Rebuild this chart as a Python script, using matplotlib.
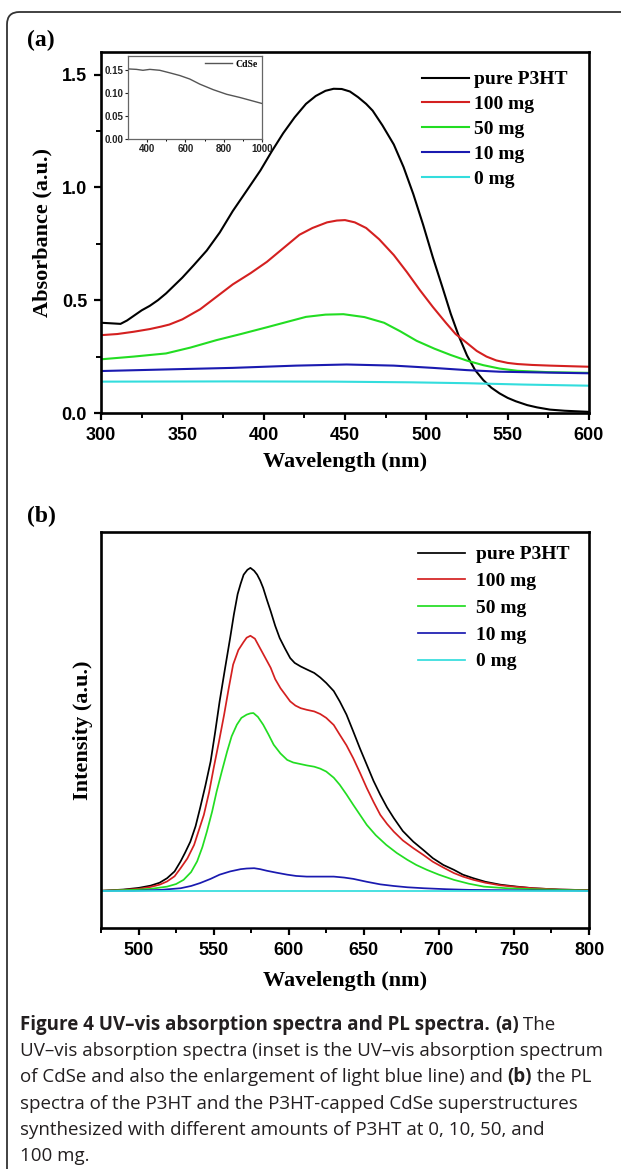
import numpy as np
import matplotlib
matplotlib.use('Agg')
import matplotlib.pyplot as plt
from matplotlib.patches import FancyBboxPatch

# ---- (a) UV-vis absorption ----
labels = ['pure P3HT', '100 mg', '50 mg', '10 mg', '0 mg']
colors = ['#000000', '#d42020', '#22dd22', '#1a1ab0', '#33dddd']

a_black_x = [300, 305, 312, 316, 320, 325, 330, 335, 340, 345, 350, 357, 365, 373, 381, 390, 398, 405, 412, 419, 426, 432, 438, 443, 448, 453, 458, 463, 467, 473, 480, 486, 492, 498, 504, 510, 515, 520, 525, 530, 535, 540, 545, 550, 555, 562, 568, 576, 585, 600]
a_black_y = [0.40, 0.398, 0.395, 0.41, 0.43, 0.455, 0.475, 0.50, 0.53, 0.565, 0.60, 0.655, 0.72, 0.80, 0.895, 0.99, 1.075, 1.16, 1.24, 1.31, 1.37, 1.405, 1.428, 1.437, 1.436, 1.425, 1.40, 1.37, 1.34, 1.275, 1.19, 1.09, 0.97, 0.835, 0.69, 0.555, 0.44, 0.34, 0.255, 0.19, 0.146, 0.112, 0.087, 0.067, 0.052, 0.035, 0.025, 0.015, 0.01, 0.005]
a_red_x = [300, 310, 320, 330, 337, 342, 350, 361, 371, 381, 392, 402, 412, 422, 430, 439, 445, 450, 456, 463, 471, 480, 488, 496, 504, 512, 518, 525, 531, 537, 543, 550, 556, 565, 576, 590, 600]
a_red_y = [0.345, 0.35, 0.36, 0.372, 0.383, 0.392, 0.415, 0.46, 0.515, 0.57, 0.62, 0.67, 0.73, 0.79, 0.82, 0.845, 0.853, 0.855, 0.845, 0.82, 0.77, 0.70, 0.625, 0.545, 0.47, 0.40, 0.35, 0.31, 0.275, 0.25, 0.233, 0.222, 0.217, 0.213, 0.21, 0.207, 0.205]
a_green_x = [300, 320, 340, 355, 371, 386, 402, 415, 426, 438, 449, 462, 474, 484, 494, 505, 515, 525, 535, 545, 556, 575, 600]
a_green_y = [0.238, 0.25, 0.264, 0.29, 0.323, 0.35, 0.38, 0.405, 0.426, 0.436, 0.438, 0.425, 0.40, 0.362, 0.32, 0.285, 0.257, 0.232, 0.212, 0.197, 0.187, 0.181, 0.178]
a_blue_x = [300, 340, 381, 420, 451, 480, 504, 525, 545, 575, 600]
a_blue_y = [0.186, 0.193, 0.20, 0.21, 0.215, 0.21, 0.20, 0.19, 0.183, 0.179, 0.176]
a_cyan_x = [300, 380, 443, 490, 525, 560, 600]
a_cyan_y = [0.139, 0.14, 0.139, 0.136, 0.132, 0.126, 0.121]

# inset: CdSe
cdse_x = [300, 344, 378, 414, 466, 518, 571, 623, 675, 745, 815, 885, 1000]
cdse_y = [0.152, 0.151, 0.149, 0.151, 0.149, 0.1435, 0.1376, 0.130, 0.119, 0.107, 0.097, 0.090, 0.077]

# ---- (b) PL spectra ----
b_black_x = [475, 490, 500, 508, 514, 519, 524, 528, 531, 534.5, 538, 541, 544.5, 548, 551, 554, 557.5, 561, 563.5, 566, 568, 570, 572.5, 574.5, 577, 579, 581, 583, 585.5, 588, 591, 594, 597.5, 601, 604, 608, 612, 617, 621, 625, 630, 634, 638.5, 643, 647.5, 652, 656.5, 661, 665.5, 670, 676, 683, 690, 696, 703, 710, 716, 723, 731, 741, 752, 763, 780, 800]
b_black_y = [0.0, 0.004, 0.009, 0.016, 0.025, 0.039, 0.06, 0.091, 0.118, 0.152, 0.2, 0.256, 0.325, 0.40, 0.49, 0.586, 0.685, 0.782, 0.855, 0.918, 0.95, 0.978, 0.993, 0.999, 0.99, 0.978, 0.96, 0.937, 0.90, 0.865, 0.82, 0.782, 0.75, 0.72, 0.705, 0.694, 0.685, 0.674, 0.66, 0.643, 0.618, 0.586, 0.545, 0.493, 0.44, 0.39, 0.34, 0.297, 0.258, 0.225, 0.185, 0.152, 0.125, 0.101, 0.08, 0.065, 0.05, 0.039, 0.028, 0.019, 0.013, 0.008, 0.004, 0.002]
b_red_x = [475, 490, 500, 508, 514, 519, 524, 528, 532.5, 537, 540, 543.5, 547, 550, 553.5, 557, 560, 563, 566.5, 570, 572, 574.5, 577.5, 581, 584.5, 588, 591, 594.5, 598, 601, 604.5, 608, 612, 617, 621, 625, 630, 634, 638.5, 643, 647.5, 652, 656.5, 661, 665.5, 670, 676, 683, 690, 696, 703, 710, 716, 723, 731, 741, 752, 763, 780, 800]
b_red_y = [0.0, 0.003, 0.006, 0.012, 0.019, 0.029, 0.045, 0.07, 0.1, 0.142, 0.185, 0.235, 0.305, 0.379, 0.46, 0.545, 0.625, 0.70, 0.745, 0.77, 0.783, 0.789, 0.78, 0.75, 0.72, 0.69, 0.655, 0.627, 0.605, 0.586, 0.573, 0.565, 0.56, 0.555, 0.547, 0.535, 0.513, 0.483, 0.45, 0.41, 0.365, 0.318, 0.275, 0.235, 0.207, 0.183, 0.156, 0.132, 0.11, 0.09, 0.072, 0.055, 0.044, 0.034, 0.025, 0.017, 0.012, 0.008, 0.004, 0.002]
b_green_x = [475, 497, 508, 519, 525, 530, 535, 539, 542.5, 545.5, 549, 552, 555.5, 559, 562, 565.5, 568.5, 572, 574.5, 576.5, 579.5, 583, 586.5, 590, 594.5, 599, 603, 608, 612, 617, 621, 625, 630, 634, 638.5, 643, 647.5, 652, 658, 665, 672, 679, 685, 692, 700, 710, 720, 730, 745, 763, 800]
b_green_y = [0.0, 0.003, 0.006, 0.013, 0.021, 0.034, 0.058, 0.091, 0.135, 0.183, 0.245, 0.307, 0.37, 0.431, 0.478, 0.514, 0.535, 0.545, 0.549, 0.55, 0.538, 0.514, 0.484, 0.452, 0.425, 0.405, 0.397, 0.392, 0.388, 0.384, 0.378, 0.369, 0.35, 0.328, 0.298, 0.266, 0.235, 0.204, 0.172, 0.142, 0.117, 0.096, 0.08, 0.065, 0.05, 0.034, 0.022, 0.013, 0.008, 0.005, 0.001]
b_blue_x = [475, 497, 515, 528, 535, 541, 548, 554, 561, 568, 572, 577, 581, 585.5, 592, 599, 605, 612, 620, 630, 637, 643, 652, 661, 670, 679, 690, 705, 720, 741, 800]
b_blue_y = [0.0, 0.0, 0.003, 0.008, 0.015, 0.024, 0.037, 0.05, 0.06, 0.067, 0.069, 0.07, 0.067, 0.062, 0.056, 0.05, 0.046, 0.044, 0.044, 0.044, 0.041, 0.037, 0.028, 0.02, 0.015, 0.011, 0.008, 0.005, 0.003, 0.002, 0.0]
b_cyan_x = [475, 600, 800]
b_cyan_y = [0.0, 0.0, 0.0]

W, H = 621, 1169
fig = plt.figure(figsize=(W / 100, H / 100), dpi=100)

serif = 'Liberation Serif'
sans = 'Liberation Sans'


def px_axes(left, top, right, bottom):
    return fig.add_axes([left / W, 1 - bottom / H, (right - left) / W, (bottom - top) / H])


def style_axes(ax):
    for sp in ax.spines.values():
        sp.set_linewidth(1.9)
    ax.tick_params(which='major', direction='out', length=5, width=1.6, pad=5,
                   labelsize=13, top=False, right=False)
    ax.tick_params(which='minor', direction='out', length=3.5, width=1.4,
                   top=False, right=False)
    for lab in ax.get_xticklabels() + ax.get_yticklabels():
        lab.set_fontfamily(sans)
        lab.set_fontweight('bold')


legend_font = {'family': serif, 'weight': 'bold', 'size': 14}

# panel (a)
ax1 = px_axes(101, 52, 589, 413)
series_a = [(a_black_x, a_black_y), (a_red_x, a_red_y), (a_green_x, a_green_y),
            (a_blue_x, a_blue_y), (a_cyan_x, a_cyan_y)]
for (x, y), c, lab in zip(series_a, colors, labels):
    ax1.plot(x, y, color=c, lw=1.5, label=lab)
ax1.set_xlim(300, 600)
ax1.set_ylim(0, 1.6)
ax1.set_xticks(np.arange(300, 601, 50))
ax1.set_xticks(np.arange(325, 600, 50), minor=True)
ax1.set_yticks([0.0, 0.5, 1.0, 1.5])
ax1.set_yticks([0.25, 0.75, 1.25], minor=True)
ax1.set_yticklabels(['0.0', '0.5', '1.0', '1.5'])
style_axes(ax1)
ax1.set_xlabel('Wavelength (nm)', fontfamily=serif, fontweight='bold', fontsize=16, labelpad=6)
ax1.set_ylabel('Absorbance (a.u.)', fontfamily=serif, fontweight='bold', fontsize=16, labelpad=7)
ax1.legend(loc='upper left', bbox_to_anchor=(0.658, 0.948), frameon=False, prop=legend_font,
           handlelength=2.4, handletextpad=0.28, labelspacing=0.37,
           borderpad=0, borderaxespad=0)

# inset
axi = px_axes(128, 56, 262, 139)
axi.plot(cdse_x, cdse_y, color='#555555', lw=1.0, label='CdSe')
axi.set_xlim(300, 1000)
axi.set_ylim(0, 0.18)
axi.set_xticks([400, 600, 800, 1000])
axi.set_xticks([500, 700, 900], minor=True)
axi.set_yticks([0.00, 0.05, 0.10, 0.15])
axi.set_yticklabels(['0.00', '0.05', '0.10', '0.15'])
for sp in axi.spines.values():
    sp.set_linewidth(0.9)
    sp.set_color('#666666')
axi.tick_params(which='major', direction='out', length=2, width=0.8, pad=1.5,
                labelsize=7, colors='#222222')
axi.tick_params(which='minor', direction='out', length=1.2, width=0.7)
for lab in axi.get_xticklabels() + axi.get_yticklabels():
    lab.set_fontfamily(sans)
    lab.set_fontweight('bold')
axi.legend(loc='upper right', frameon=False, prop={'family': serif, 'weight': 'bold', 'size': 7},
           handlelength=2.8, handletextpad=0.4, borderpad=0.3, borderaxespad=0.1)

# panel (b)
ax2 = px_axes(101, 532, 589, 928)
series_b = [(b_black_x, b_black_y), (b_red_x, b_red_y), (b_green_x, b_green_y),
            (b_blue_x, b_blue_y), (b_cyan_x, b_cyan_y)]
for (x, y), c, lab in zip(series_b, colors, labels):
    ax2.plot(x, y, color=c, lw=1.25, label=lab)
ax2.set_xlim(475, 800)
ax2.set_ylim(-0.115, 1.11)
ax2.set_xticks(np.arange(500, 801, 50))
ax2.set_xticks(np.arange(475, 800, 50), minor=True)
ax2.set_yticks([])
style_axes(ax2)
ax2.set_xlabel('Wavelength (nm)', fontfamily=serif, fontweight='bold', fontsize=16, labelpad=9)
ax2.set_ylabel('Intensity (a.u.)', fontfamily=serif, fontweight='bold', fontsize=16, labelpad=6)
ax2.legend(loc='upper left', bbox_to_anchor=(0.65, 0.965), frameon=False, prop=legend_font,
           handlelength=2.4, handletextpad=0.57, labelspacing=0.47,
           borderpad=0, borderaxespad=0)

# panel letters
fig.text(27 / W, 1 - 40 / H, '(a)', fontfamily=serif, fontweight='bold', fontsize=17, va='center')
fig.text(27 / W, 1 - 516 / H, '(b)', fontfamily=serif, fontweight='bold', fontsize=17, va='center')

# outer rounded frame (runs off the right and bottom edges)
frame = FancyBboxPatch((7 / W, -0.05), 1.2, 1 - 12 / H + 0.05,
                       boxstyle='round,pad=0,rounding_size=0.02',
                       transform=fig.transFigure, fill=False, ec='#333333', lw=1.3,
                       mutation_aspect=W / H)
fig.patches.append(frame)

# caption
cap_lines = [
    [('Figure 4 UV\u2013vis absorption spectra and PL spectra. ', 'bold'), ('(a)', 'bold'), (' The', 'normal')],
    [('UV\u2013vis absorption spectra (inset is the UV\u2013vis absorption spectrum', 'normal')],
    [('of CdSe and also the enlargement of light blue line) and ', 'normal'), ('(b)', 'bold'), (' the PL', 'normal')],
    [('spectra of the P3HT and the P3HT-capped CdSe superstructures', 'normal')],
    [('synthesized with different amounts of P3HT at 0, 10, 50, and', 'normal')],
    [('100 mg.', 'normal')],
]
renderer = fig.canvas.get_renderer()
probe = fig.text(0, 0, cap_lines[1][0][0], fontfamily='Open Sans', fontsize=10)
cap_size = 10 * 582 / probe.get_window_extent(renderer).width
probe.remove()

cap_top = 1025
cap_step = 26.2
for i, parts in enumerate(cap_lines):
    x = 20
    y = cap_top + i * cap_step
    for s, w in parts:
        t = fig.text(x / W, 1 - y / H, s, fontfamily='Open Sans', fontweight=w,
                     fontsize=cap_size, color='#231f20', va='center')
        x += t.get_window_extent(renderer).width

fig.savefig('out.png', dpi=100)
